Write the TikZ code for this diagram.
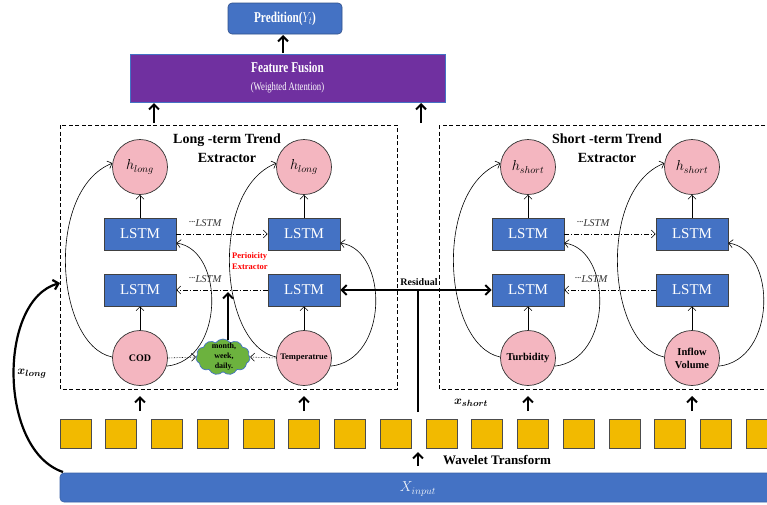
\documentclass[tikz,border=0pt]{standalone}
\usepackage{amsmath}
\usepackage{fontspec}
\setmainfont{Liberation Serif}
\usetikzlibrary{arrows.meta,shapes.symbols,shapes.geometric}
\definecolor{lblue}{RGB}{68,114,196}
\definecolor{lpurple}{RGB}{112,48,160}
\definecolor{lpink}{RGB}{244,182,192}
\definecolor{lgold}{RGB}{242,186,0}
\definecolor{lgreen}{RGB}{108,178,62}
\newcommand{\mydots}{\raisebox{1pt}{\textperiodcentered\kern-0.5pt\textperiodcentered\kern-0.5pt\textperiodcentered}}
\tikzset{
 lstmbox/.style={draw=black!75, line width=0.6pt, fill=lblue, text=white, minimum width=72pt, minimum height=32pt, inner sep=0pt, font=\fontsize{15}{15}\selectfont},
 hcirc/.style={circle, draw=black!80, line width=0.7pt, fill=lpink, minimum size=55pt, inner sep=0pt},
 sqbox/.style={draw=black!70, line width=0.7pt, fill=lgold, minimum width=31pt, minimum height=29pt, inner sep=0pt},
 thinarr/.style={-{Straight Barb[length=4pt,width=8pt]}, line width=0.6pt},
 thickarr/.style={-{Straight Barb[length=5pt,width=10pt]}, line width=2pt},
 dashdot/.style={dash pattern=on 5pt off 2pt on 1pt off 2pt},
 dbox/.style={dash pattern=on 4pt off 2.5pt, line width=0.8pt},
 lstmlbl/.style={font=\fontsize{10.5}{10.5}\selectfont\itshape, text=black!80},
 titlelbl/.style={align=center, font=\fontsize{14}{19}\selectfont\bfseries},
}
\begin{document}
\begin{tikzpicture}[x=1pt,y=-1pt]
\useasboundingbox (0,0) rectangle (767,504);

% top boxes
\node[draw=lblue!70!black, line width=0.6pt, fill=lblue, rounded corners=4pt, minimum width=114pt, minimum height=31pt, inner sep=0pt, text=white] (pred) at (285,18.5)
  {\scalebox{0.75}[1]{\fontsize{15}{15}\selectfont\bfseries Predition($Y_t$)}};
\node[draw=lblue, line width=0.6pt, fill=lpurple, minimum width=315pt, minimum height=48pt, inner sep=0pt, text=white, align=center] (fus) at (287.5,78)
  {\scalebox{0.75}[1]{\fontsize{15}{15}\selectfont\bfseries Feature Fusion}\\[6pt]
   \scalebox{0.75}[1]{\fontsize{11.5}{12}\selectfont (Weighted Attention)}};
\coordinate (fa) at (283,53);
\coordinate (fb) at (283,35);
\draw[thickarr] (fa) -- (fb);
\coordinate (la) at (154,123);
\coordinate (lb) at (154,103);
\coordinate (ra) at (421,123);
\coordinate (rb) at (421,103);
\draw[thickarr] (la) -- (lb);
\draw[thickarr] (ra) -- (rb);

% dashed extractor boxes
\draw[dbox] (60,125) rectangle (397,389);
\draw[dbox] (439,125) rectangle (780,389);
\node[titlelbl] (lt) at (227,148) {Long -term Trend\\Extractor};
\node[titlelbl] (st) at (607,148) {Short -term Trend\\Extractor};

% columns
\foreach \c/\x/\hl in {1/140/long,2/304/long,3/528/short,4/692/short}{
  \node[hcirc] (h\c) at (\x,167) {\fontsize{14}{14}\selectfont$h_{\hl}$};
  \node[lstmbox] (u\c) at (\x,234) {LSTM};
  \node[lstmbox] (d\c) at (\x,290) {LSTM};
}
\node[hcirc, font=\fontsize{10}{10}\selectfont\bfseries] (b1) at (140,358) {COD};
\node[hcirc, font=\fontsize{8.5}{10}\selectfont\bfseries] (b2) at (304,358) {Temperatrue};
\node[hcirc, font=\fontsize{10.5}{10}\selectfont\bfseries] (b3) at (528,358) {Turbidity};
\node[hcirc, align=center, font=\fontsize{10.5}{13}\selectfont\bfseries] (b4) at (692,358) {Inflow\\Volume};

\foreach \c/\x in {1/140,2/304,3/528,4/692}{
  \draw[thinarr] (u\c) -- (h\c);
  \draw[thinarr] (b\c) -- (d\c);
  \draw[thinarr] (b\c.178) .. controls ({\x-85},345) and ({\x-95},190) .. (h\c.172);
  \draw[thinarr] (b\c.-17) .. controls ({\x+85},360) and ({\x+85},250) .. ([yshift=-9pt]u\c.east);
  \coordinate (ia\c) at (\x,411);
  \coordinate (ib\c) at (\x,396);
  \draw[thickarr] (ia\c) -- (ib\c);
}

% recurrent LSTM links
\draw[dashdot, thinarr] (u1) -- (u2);
\draw[dashdot, thinarr] (d2) -- (d1);
\draw[dashdot, thinarr] (u3) -- (u4);
\draw[dashdot, thinarr] (d4) -- (d3);
\node[lstmlbl] (t1) at (205,223) {\mydots LSTM};
\node[lstmlbl] (t2) at (205,279) {\mydots LSTM};
\node[lstmlbl] (t3) at (593,223) {\mydots LSTM};
\node[lstmlbl] (t4) at (591,279) {\mydots LSTM};

% periodicity extractor
\node[cloud, cloud puffs=11, cloud puff arc=110, aspect=1.5, draw=lblue, line width=0.7pt, fill=lgreen, minimum width=54pt, minimum height=36pt, inner sep=0pt] (cl) at (223,357) {};
\node[align=center, font=\fontsize{8}{10}\selectfont\bfseries, inner sep=0pt] (clt) at (224,357) {month,\\week,\\daily.};
\draw[densely dotted, thinarr] (b1.east) -- (cl.west);
\draw[densely dotted, thinarr] (b2.west) -- (cl.east);
\coordinate (pa) at (228,340);
\coordinate (pb) at (228,292);
\draw[thickarr] (pa) -- (pb);
\node[align=left, anchor=west, text=red, font=\fontsize{8.5}{11}\selectfont\bfseries, inner sep=0pt] (per) at (232,261) {Perioicity\\Extractor};

% residual
\coordinate (rs) at (418,290);
\coordinate (rsb) at (418,412);
\draw[line width=2.2pt] (rsb) -- (rs);
\draw[thickarr] (rs) -- (d2.east);
\draw[thickarr] (rs) -- (d3.west);
\node[font=\fontsize{10}{10}\selectfont\bfseries] (res) at (419,282) {Residual};

% wavelet squares
\foreach \i in {0,...,15}{
  \node[sqbox] (s\i) at ({75.5+\i*45.75},433.5) {};
}
\coordinate (wa) at (418,466);
\coordinate (wb) at (418,452);
\draw[thickarr] (wa) -- (wb);
\node[font=\fontsize{13}{13}\selectfont\bfseries] (wt) at (497,460) {Wavelet Transform};
\node[font=\fontsize{13}{13}\selectfont] (xs) at (471,403) {$\boldsymbol{x_{short}}$};

% input
\node[draw=lblue!85!black, line width=0.6pt, fill=lblue, rounded corners=4pt, minimum width=720pt, minimum height=29pt, inner sep=0pt] (xin) at (420,487.5) {};
\node[text=white!92!lblue, font=\fontsize{14}{14}\selectfont] (xint) at (418,489) {$X_{input}$};

% x_long
\coordinate (xa) at (63,472);
\coordinate (xb) at (60,283);
\draw[-{Straight Barb[length=5pt,width=10pt]}, line width=2.2pt] (xa) .. controls (-2,450) and (-2,300) .. (xb);
\node[font=\fontsize{13}{13}\selectfont] (xl) at (32,374) {$\boldsymbol{x_{long}}$};
\end{tikzpicture}
\end{document}
